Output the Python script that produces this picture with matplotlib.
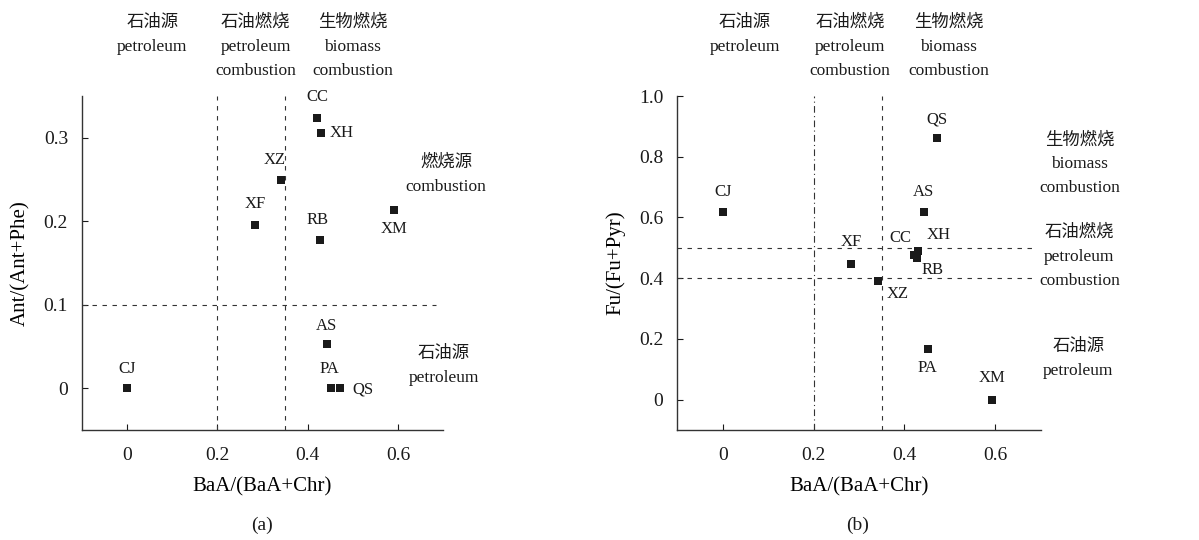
import matplotlib.pyplot as plt

plt.rcParams['font.family'] = ['Liberation Serif', 'Noto Sans CJK SC']
plt.rcParams['text.color'] = '#1a1a1a'
plt.rcParams['axes.edgecolor'] = '#333333'

# ---- data ----
sites = ['CC', 'XH', 'XZ', 'XF', 'RB', 'XM', 'AS', 'CJ', 'PA', 'QS']
baa_chr = [0.421, 0.430, 0.342, 0.283, 0.428, 0.592, 0.442, 0.0, 0.451, 0.472]
ant_phe = [0.324, 0.306, 0.249, 0.196, 0.177, 0.214, 0.053, 0.0, 0.0, 0.0]
fu_pyr = [0.478, 0.490, 0.392, 0.447, 0.467, 0.0, 0.617, 0.617, 0.167, 0.861]

# label offsets in points (dx, dy, ha, va) for each site, panel a / panel b
offs_a = {'CC': (0, 9, 'center', 'bottom'), 'XH': (6, 0, 'left', 'center'),
          'XZ': (-5, 9, 'center', 'bottom'), 'XF': (0, 9, 'center', 'bottom'),
          'RB': (-2, 9, 'center', 'bottom'), 'XM': (0, -8, 'center', 'top'),
          'AS': (0, 7, 'center', 'bottom'), 'CJ': (0, 8, 'center', 'bottom'),
          'PA': (-1, 8, 'center', 'bottom'), 'QS': (9, -1, 'left', 'center')}
offs_b = {'CC': (-10, 6, 'center', 'bottom'), 'XH': (15, 6, 'center', 'bottom'),
          'XZ': (6, -4, 'left', 'top'), 'XF': (0, 10, 'center', 'bottom'),
          'RB': (3, -3, 'left', 'top'), 'XM': (0, 10, 'center', 'bottom'),
          'AS': (0, 9, 'center', 'bottom'), 'CJ': (0, 9, 'center', 'bottom'),
          'PA': (0, -8, 'center', 'top'), 'QS': (0, 8, 'center', 'bottom')}

fig = plt.figure(figsize=(11.99, 5.4), dpi=100)
ax1 = fig.add_axes([0.0684, 0.2037, 0.3011, 0.6185])
ax2 = fig.add_axes([0.5649, 0.2037, 0.3031, 0.6185])

dash = (0, (4, 5))
dashdot = (0, (6, 3, 1, 3))
LINE = 17.3  # line spacing in points (24 px)


def style(ax):
    for s in ['top', 'right']:
        ax.spines[s].set_visible(False)
    ax.spines['left'].set_linewidth(1.0)
    ax.spines['bottom'].set_linewidth(1.0)
    ax.tick_params(direction='in', length=4, labelsize=14, colors='#1a1a1a')
    ax.tick_params(axis='x', pad=12)
    ax.tick_params(axis='y', pad=10)
    ax.set_xlim(-0.1, 0.7)
    ax.set_xticks([0, 0.2, 0.4, 0.6])
    ax.set_xticklabels(['0', '0.2', '0.4', '0.6'])
    ax.set_xlabel('BaA/(BaA+Chr)', fontsize=15, labelpad=10)


def stack(ax, x, y, lines, tr=None, top=False):
    # place lines one below another, centred on (x, y) or starting at y when top
    n = len(lines)
    for i, s in enumerate(lines):
        off = -i * LINE if top else ((n - 1) / 2 - i) * LINE
        ax.annotate(s, (x, y), xycoords=tr if tr is not None else 'data',
                    xytext=(0, off), textcoords='offset points',
                    ha='center', va='center', fontsize=12.5, annotation_clip=False)


def header(ax, xs):
    tr = ax.get_xaxis_transform()
    stack(ax, xs[0], 1.2186, ['石油源', 'petroleum'], tr, top=True)
    stack(ax, xs[1], 1.2186, ['石油燃烧', 'petroleum', 'combustion'], tr, top=True)
    stack(ax, xs[2], 1.2186, ['生物燃烧', 'biomass', 'combustion'], tr, top=True)


# ---- panel (a) ----
style(ax1)
ax1.set_ylim(-0.05, 0.35)
ax1.set_yticks([0, 0.1, 0.2, 0.3])
ax1.set_yticklabels(['0', '0.1', '0.2', '0.3'])
ax1.set_ylabel('Ant/(Ant+Phe)', fontsize=15, labelpad=10)
ax1.axvline(0.2, color='#333333', lw=0.8, ls=dash)
ax1.axvline(0.35, color='#333333', lw=0.8, ls=dash)
ax1.axhline(0.1, xmax=0.98, color='#333333', lw=0.8, ls=dash)
ax1.plot(baa_chr, ant_phe, 's', color='#1a1a1a', ms=5.4, mew=0, clip_on=False)
for n, x, y in zip(sites, baa_chr, ant_phe):
    dx, dy, ha, va = offs_a[n]
    ax1.annotate(n, (x, y), xytext=(dx, dy), textcoords='offset points',
                 ha=ha, va=va, fontsize=12)
header(ax1, [0.056, 0.285, 0.50])
stack(ax1, 0.707, 0.256, ['燃烧源', 'combustion'])
stack(ax1, 0.702, 0.027, ['石油源', 'petroleum'])
fig.text(0.2188, 0.028, '(a)', ha='center', va='center', fontsize=14)

# ---- panel (b) ----
style(ax2)
ax2.set_ylim(-0.1, 1.0)
ax2.set_yticks([0, 0.2, 0.4, 0.6, 0.8, 1.0])
ax2.set_yticklabels(['0', '0.2', '0.4', '0.6', '0.8', '1.0'])
ax2.set_ylabel('Fu/(Fu+Pyr)', fontsize=15, labelpad=10)
ax2.axvline(0.2, color='#333333', lw=0.8, ls=dashdot)
ax2.axvline(0.35, color='#333333', lw=0.8, ls=dash)
ax2.axhline(0.5, xmax=0.98, color='#333333', lw=0.8, ls=dash)
ax2.axhline(0.4, xmax=0.98, color='#333333', lw=0.8, ls=dash)
ax2.plot(baa_chr, fu_pyr, 's', color='#1a1a1a', ms=5.4, mew=0, clip_on=False)
for n, x, y in zip(sites, baa_chr, fu_pyr):
    dx, dy, ha, va = offs_b[n]
    ax2.annotate(n, (x, y), xytext=(dx, dy), textcoords='offset points',
                 ha=ha, va=va, fontsize=12)
header(ax2, [0.048, 0.28, 0.497])
stack(ax2, 0.785, 0.775, ['生物燃烧', 'biomass', 'combustion'])
stack(ax2, 0.785, 0.47, ['石油燃烧', 'petroleum', 'combustion'])
stack(ax2, 0.783, 0.135, ['石油源', 'petroleum'])
fig.text(0.7155, 0.028, '(b)', ha='center', va='center', fontsize=14)

fig.savefig('out.png', dpi=100)
